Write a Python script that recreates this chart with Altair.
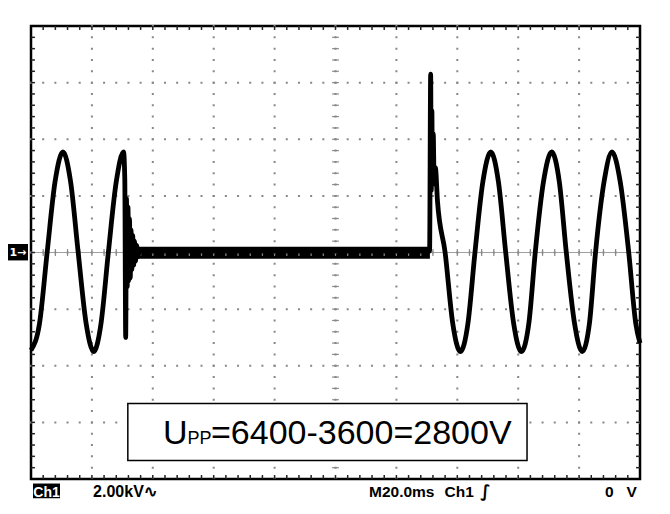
import altair as alt
import pandas as pd

# ---- trace (time in ms, voltage in kV) ----
t_ms = [0.0, 2.8, 5.3, 7.9, 10.5, 13.0, 15.5, 18.1, 20.6, 23.0, 25.4, 28.0, 30.4,
        30.8, 31.1, 31.35, 31.6, 31.85, 32.1, 32.35, 32.6, 32.85, 33.1, 33.4,
        33.7, 34.0, 34.35, 34.7, 35.1, 35.6,
        130.9, 131.25, 131.45, 131.65, 131.85, 132.1, 132.4, 132.8, 133.5,
        136.0, 138.5, 141.0, 143.5, 145.8, 148.4, 151.0, 153.5, 155.9, 158.5,
        161.0, 163.5, 165.6, 168.3, 171.0, 173.5, 175.8, 178.5, 181.0, 183.4,
        185.4, 188.2, 190.8, 193.5, 196.3, 198.6, 200.0]
kv = [-3.45, -2.5, 0.0, 2.5, 3.55, 2.5, 0.0, -2.5, -3.5, -2.5, 0.0, 2.5, 3.55,
      2.6, -3.0, 1.9, -1.2, 1.6, -1.0, 1.2, -0.9, 0.8, -0.6, 0.6,
      -0.45, 0.4, -0.3, 0.25, -0.15, 0.05,
      0.05, 6.3, 2.2, 5.0, 2.4, 4.2, 2.5, 3.0, 1.8,
      0.0, -2.5, -3.5, -2.5, 0.0, 2.5, 3.55, 2.5, 0.0, -2.5,
      -3.5, -2.5, 0.0, 2.5, 3.55, 2.5, 0.0, -2.5, -3.5, -2.5,
      0.0, 2.5, 3.55, 2.5, 0.0, -2.5, -3.2]

# thick noise band on the zero line while the signal is suppressed
band_t = [35.0, 131.0]
band_lo = [-0.22, -0.22]
band_hi = [0.2, 0.2]

# graticule: 10 x 20 ms, 8 x 2 kV
x_major = [20, 40, 60, 80, 100, 120, 140, 160, 180]
y_major = [-6, -4, -2, 0, 2, 4, 6]
x_minor = [i * 4 for i in range(1, 50)]
y_minor = [round(-8 + i * 0.4, 2) for i in range(1, 40)]

annotation = "=6400-3600=2800V"

xs = alt.Scale(domain=[0, 200], nice=False, zero=False)
ys = alt.Scale(domain=[-8, 8], nice=False, zero=False)
GRID = "#888888"

trace_df = pd.DataFrame({"t": t_ms, "v": kv})
band_df = pd.DataFrame({"t": band_t, "lo": band_lo, "hi": band_hi})

hidden = dict(grid=False, labels=False, ticks=False, domain=False, title=None)

band = alt.Chart(band_df).mark_area(color="black").encode(
    x=alt.X("t:Q", scale=xs, axis=alt.Axis(**hidden)),
    y=alt.Y("lo:Q", scale=ys, axis=alt.Axis(**hidden)),
    y2="hi:Q",
)

# dotted graticule lines
vgrid = alt.Chart(pd.DataFrame({"t": x_major})).mark_rule(
    color=GRID, strokeWidth=2, strokeDash=[2, 9.325]).encode(
    x=alt.X("t:Q", scale=xs, axis=None),
    y=alt.datum(8.035, scale=ys), y2=alt.datum(-8.0))
hgrid = alt.Chart(pd.DataFrame({"v": y_major})).mark_rule(
    color=GRID, strokeWidth=2, strokeDash=[2, 10.18]).encode(
    y=alt.Y("v:Q", scale=ys, axis=None),
    x=alt.datum(-0.33, scale=xs), x2=alt.datum(200.0))

# minor ticks on the centre cross
cx_df = pd.DataFrame({"t": x_minor})
cy_df = pd.DataFrame({"v": y_minor})
center_x_ticks = alt.Chart(cx_df).mark_rule(color=GRID, strokeWidth=1.2).encode(
    x=alt.X("t:Q", scale=xs, axis=None),
    y=alt.datum(-0.12, scale=ys), y2=alt.datum(0.12),
)
center_y_ticks = alt.Chart(cy_df).mark_rule(color=GRID, strokeWidth=1.2).encode(
    y=alt.Y("v:Q", scale=ys, axis=None),
    x=alt.datum(98.9, scale=xs), x2=alt.datum(101.1),
)
center_h = alt.Chart(pd.DataFrame({"v": [0]})).mark_rule(
    color="#a0a0a0", strokeWidth=1).encode(
    y=alt.Y("v:Q", scale=ys, axis=None),
    x=alt.datum(0, scale=xs), x2=alt.datum(200))

# inward ticks on the frame edges
top_ticks = alt.Chart(cx_df).mark_rule(color="#222", strokeWidth=1.5).encode(
    x=alt.X("t:Q", scale=xs, axis=None), y=alt.datum(8, scale=ys), y2=alt.datum(7.86))
bot_ticks = alt.Chart(cx_df).mark_rule(color="#222", strokeWidth=1.5).encode(
    x=alt.X("t:Q", scale=xs, axis=None), y=alt.datum(-8, scale=ys), y2=alt.datum(-7.86))
left_ticks = alt.Chart(cy_df).mark_rule(color="#222", strokeWidth=1.5).encode(
    y=alt.Y("v:Q", scale=ys, axis=None), x=alt.datum(0, scale=xs), x2=alt.datum(1.3))
right_ticks = alt.Chart(cy_df).mark_rule(color="#222", strokeWidth=1.5).encode(
    y=alt.Y("v:Q", scale=ys, axis=None), x=alt.datum(200, scale=xs), x2=alt.datum(198.7))

trace = alt.Chart(trace_df).mark_line(color="black", strokeWidth=4.8, interpolate="monotone",
                                      strokeJoin="round").encode(
    x=alt.X("t:Q", scale=xs, axis=None),
    y=alt.Y("v:Q", scale=ys, axis=None),
)

# annotation box
box = alt.Chart(pd.DataFrame({"a": [31.8], "b": [162.9], "c": [-5.33], "d": [-7.35]})).mark_rect(
    fill="white", stroke="black", strokeWidth=1.5).encode(
    x=alt.X("a:Q", scale=xs, axis=None), x2="b:Q",
    y=alt.Y("c:Q", scale=ys, axis=None), y2="d:Q")

def txt(s, x, y, size, align="left", color="black", weight="normal", baseline="alphabetic",
        font="Liberation Sans"):
    return alt.Chart(pd.DataFrame({"x": [x], "y": [y], "s": [s]})).mark_text(
        align=align, baseline=baseline, fontSize=size, color=color, fontWeight=weight,
        font=font).encode(
        x=alt.X("x:Q", scale=xs, axis=None), y=alt.Y("y:Q", scale=ys, axis=None), text="s:N")

t_u = txt("U", 43.35, -6.76, 34)
t_pp = txt("PP", 51.4, -6.76, 18)
t_rest = txt(annotation, 59.1, -6.76, 34)

# status line
ch_box = alt.Chart(pd.DataFrame({"a": [0.66], "b": [9.52], "c": [-8.16], "d": [-8.68]})).mark_rect(
    fill="black").encode(
    x=alt.X("a:Q", scale=xs, axis=None), x2="b:Q",
    y=alt.Y("c:Q", scale=ys, axis=None), y2="d:Q")
s_ch = txt("Ch1", 5.09, -8.63, 14, align="center", color="white", weight="bold")
s_kv = txt("2.00kV\u223f", 20.4, -8.63, 16, weight="bold")
s_m = txt("M20.0ms", 111.0, -8.63, 15.5, weight="bold")
s_ch2 = txt("Ch1", 135.8, -8.63, 15.5, weight="bold")
s_trig = txt("\u222b", 147.5, -8.63, 17, weight="bold", font="DejaVu Sans")
s_0v = txt("0\u00a0\u00a0\u00a0V", 199.0, -8.63, 15.5, align="right", weight="bold")

# channel-1 ground marker
m_box = alt.Chart(pd.DataFrame({"a": [-7.6], "b": [-0.99], "c": [0.3], "d": [-0.28]})).mark_rect(
    fill="black").encode(
    x=alt.X("a:Q", scale=xs, axis=None), x2="b:Q",
    y=alt.Y("c:Q", scale=ys, axis=None), y2="d:Q")
m_txt = txt("1\u2192", -4.3, 0.0, 11, align="center", color="white", weight="bold",
            baseline="middle", font="DejaVu Sans")

chart = alt.layer(
    band, vgrid, hgrid, center_h, center_x_ticks, center_y_ticks,
    top_ticks, bot_ticks, left_ticks, right_ticks,
    trace, box, t_u, t_pp, t_rest,
    ch_box, s_ch, s_kv, s_m, s_ch2, s_trig, s_0v, m_box, m_txt,
).properties(
    width=609, height=453,
    autosize=alt.AutoSizeParams(type="none"),
    padding={"left": 23, "top": 18, "right": 22, "bottom": 27},
    background="white",
).configure_view(stroke="black", strokeWidth=2.5)

chart.save("out.html", embed_options={"renderer": "svg", "actions": False})
